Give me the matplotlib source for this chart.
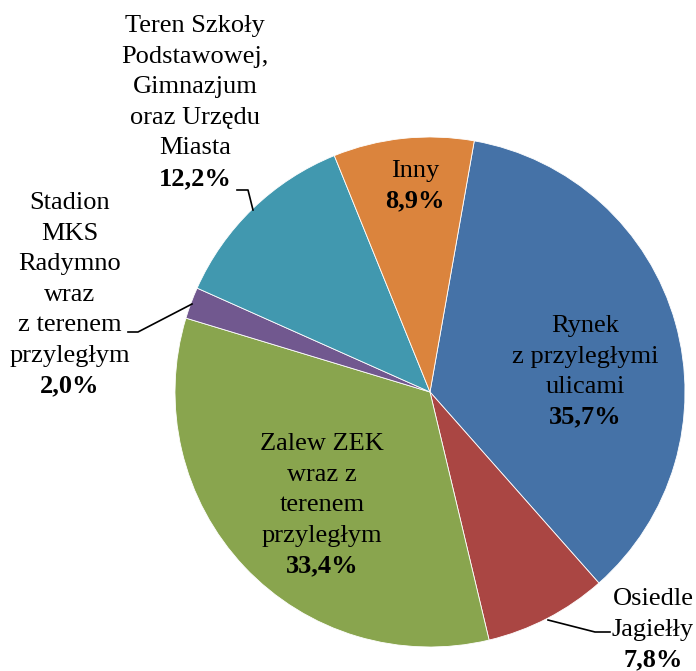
import numpy as np
import matplotlib.pyplot as plt

# data
names = ["Rynek\nz przyległymi\nulicami", "Osiedle\nJagiełły",
         "Zalew ZEK\nwraz z\nterenem\nprzyległym",
         "Stadion\nMKS\nRadymno\nwraz\nz terenem\nprzyległym",
         "Teren Szkoły\nPodstawowej,\nGimnazjum\noraz Urzędu\nMiasta",
         "Inny"]
shares = [35.7, 7.8, 33.4, 2.0, 12.2, 8.9]
colors = ["#4572A7", "#AA4643", "#89A54E", "#71588F", "#4198AF", "#DB843D"]

W, H = 696, 671
# label layout (pixel coords, y from top): x centre, first baseline
label_pos = [(585, 332), (653, 605), (322, 450), (70, 209), (195, 32), (415, 177)]
# leader lines for outside labels (pixel coords, y from top)
leaders = {1: [(548, 620), (595, 632), (610, 632)],
           3: [(192, 304), (138, 332), (128, 332)],
           4: [(253, 210), (248, 190), (237, 190)]}
step = 30.6

plt.rcParams['font.family'] = ['Liberation Serif', 'DejaVu Serif']

fig = plt.figure(figsize=(W / 100, H / 100), dpi=100)
ax = fig.add_axes([0, 0, 1, 1])

ax.pie(shares, colors=colors, startangle=80, counterclock=False,
       center=(430, H - 392), radius=255,
       wedgeprops=dict(edgecolor='white', linewidth=0.6))
ax.set_xlim(0, W)
ax.set_ylim(0, H)
ax.set_aspect('equal')
ax.axis('off')

for i, (name, val) in enumerate(zip(names, shares)):
    x, y0 = label_pos[i]
    lines = name.split("\n")
    for k, ln in enumerate(lines):
        ax.text(x, H - (y0 + k * step), ln, ha='center', va='baseline',
                fontsize=19, color='black')
    pct = ("%.1f%%" % val).replace(".", ",")
    ax.text(x, H - (y0 + len(lines) * step), pct, ha='center', va='baseline',
            fontsize=19, fontweight='bold', color='black')

for i, pts in leaders.items():
    xs = [p[0] for p in pts]
    ys = [H - p[1] for p in pts]
    ax.plot(xs, ys, color='black', linewidth=1.2)

fig.savefig("out.png", dpi=100)
